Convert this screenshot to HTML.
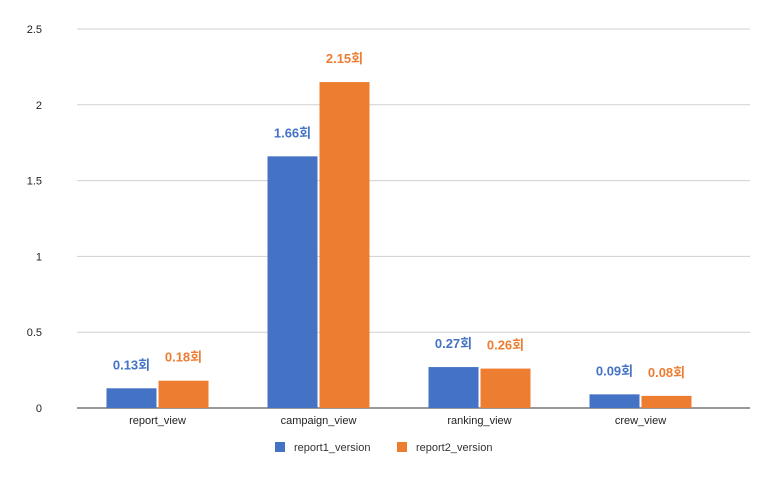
<!DOCTYPE html>
<html><head><meta charset="utf-8"><style>
body{margin:0;background:#fff;}
svg text{font-family:"Liberation Sans","Noto Sans CJK KR",sans-serif;}
</style></head><body>
<svg id="chart" width="773" height="478" xmlns="http://www.w3.org/2000/svg"></svg>
<script>
const categories=["report_view","campaign_view","ranking_view","crew_view"];
const series1=[0.13,1.66,0.27,0.09];
const series2=[0.18,2.15,0.26,0.08];
const labels1=["0.13회","1.66회","0.27회","0.09회"];
const labels2=["0.18회","2.15회","0.26회","0.08회"];
const ticks=[0,0.5,1,1.5,2,2.5];
const tickLabels=["0","0.5","1","1.5","2","2.5"];
const seriesNames=["report1_version","report2_version"];
const colors=["#4472c4","#ed7d31"];

const svg=document.getElementById('chart');
const NS="http://www.w3.org/2000/svg";
const x0=77,x1=750,y0=408,y1=29,ymax=2.5;
const band=161;
const y=v=>y0-(v/ymax)*(y0-y1);
const xc=i=>x0+band*(i+0.5);
function mk(tag,attrs,txt){const e=document.createElementNS(NS,tag);for(const k in attrs)e.setAttribute(k,attrs[k]);if(txt!=null)e.textContent=txt;svg.appendChild(e);return e;}

ticks.forEach((t,i)=>{
  const g=mk('line',{x1:x0,x2:x1,y1:y(t),y2:y(t),stroke:t===0?'#333':'#d0d0d0','stroke-width':1});
  
  
  const l=mk('text',{x:42,y:y(t)+4,'font-size':11,'text-anchor':'end',fill:'#222'},tickLabels[i]);
  
  
});

const bw=50,gap=2;
categories.forEach((c,i)=>{
  const cx=xc(i);
  [[series1,labels1,0],[series2,labels2,1]].forEach(([s,lb,k])=>{
    const bx=k===0?cx-gap/2-bw:cx+gap/2;
    const r=mk('rect',{x:bx,y:y(s[i]),width:bw,height:y0-y(s[i]),fill:colors[k]});
    
    
    const t=mk('text',{x:bx+bw/2,y:y(s[i])-19,'font-size':13,'font-weight':'bold','text-anchor':'middle',fill:colors[k]},lb[i]);
    
    
  });
  const xl=mk('text',{x:cx,y:424,'font-size':11,'text-anchor':'middle',fill:'#222'},c);
  
  
});

const lx=[275,397];
seriesNames.forEach((n,k)=>{
  const sq=mk('rect',{x:lx[k],y:442,width:10,height:10,fill:colors[k]});
  
  
  const t=mk('text',{x:lx[k]+19,y:451,'font-size':11,fill:'#333'},n);
  
  
});
</script>
</body></html>
